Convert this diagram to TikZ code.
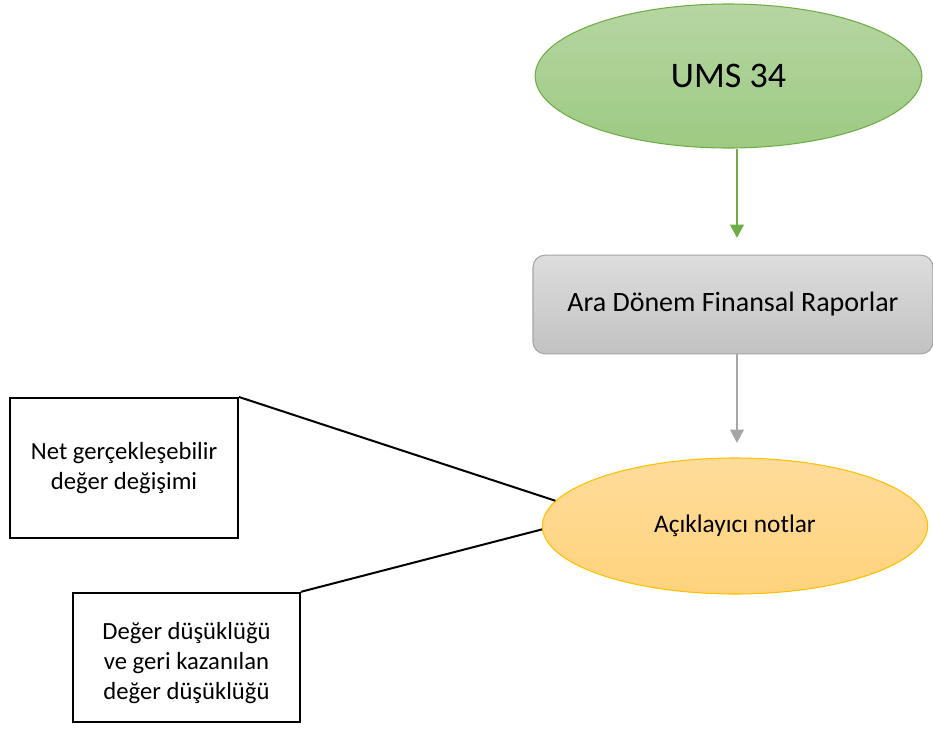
\documentclass[tikz,border=0pt]{standalone}
\usepackage{fontspec}
\setmainfont{Carlito}
\usetikzlibrary{shapes.geometric, arrows.meta, positioning}
\definecolor{umsedge}{HTML}{70AD47}
\definecolor{umstop}{HTML}{B6D6A2}
\definecolor{umsbot}{HTML}{9DCA83}
\definecolor{repedge}{HTML}{A5A5A5}
\definecolor{reptop}{HTML}{DDDDDD}
\definecolor{repbot}{HTML}{C2C2C2}
\definecolor{noteedge}{HTML}{FFC000}
\definecolor{notetop}{HTML}{FFDC9B}
\definecolor{notebot}{HTML}{FFD37D}
\tikzset{
  oval/.style={ellipse, draw, inner sep=0pt, line width=0.8pt},
  notebox/.style={rectangle, draw, line width=1.5pt, align=center, inner sep=0pt, font=\fontsize{18.5}{22.5}\selectfont},
  flowarrow/.style={-{Triangle[length=10pt, width=10pt]}, line width=2pt},
  link/.style={line width=1.5pt},
}
\begin{document}
\begin{tikzpicture}[x=0.75pt, y=-0.75pt]
  \useasboundingbox (0,0) rectangle (933,732);
  % standard and statements
  \node[oval, draw=umsedge, top color=umstop, bottom color=umsbot, minimum width=290pt, minimum height=108pt, font=\fontsize{27}{32}\selectfont] (ums) at (728.5,76) {UMS 34};
  \node[rectangle, rounded corners=9pt, draw=repedge, line width=0.8pt, top color=reptop, bottom color=repbot, minimum width=300pt, minimum height=74pt, font=\fontsize{21}{25}\selectfont] (rep) at (733,304.5) {Ara Dönem Finansal Raporlar};
  \node[oval, draw=noteedge, top color=notetop, bottom color=notebot, minimum width=289pt, minimum height=102pt, font=\fontsize{19}{23}\selectfont] (notes) at (735,526) {Açıklayıcı notlar};
  % note boxes
  \node[notebox, minimum width=171pt, minimum height=105pt] (nrv) at (124,468) {Net gerçekleşebilir\\değer değişimi};
  \node[notebox, minimum width=170pt, minimum height=97pt] (imp) at (186.5,657.5) {\rule{0pt}{21pt}Değer düşüklüğü\\ve geri kazanılan\\değer düşüklüğü};
  \coordinate (gtip) at (737,238);
  \coordinate (otip) at (737,443);
  \draw[flowarrow, umsedge] (ums.south -| gtip) -- (gtip);
  \draw[flowarrow, repedge] (rep.south -| otip) -- (otip);
  \draw[link] (nrv.north east) -- (notes.172);
  \draw[link] (imp.north east) -- (notes.181);
\end{tikzpicture}
\end{document}
